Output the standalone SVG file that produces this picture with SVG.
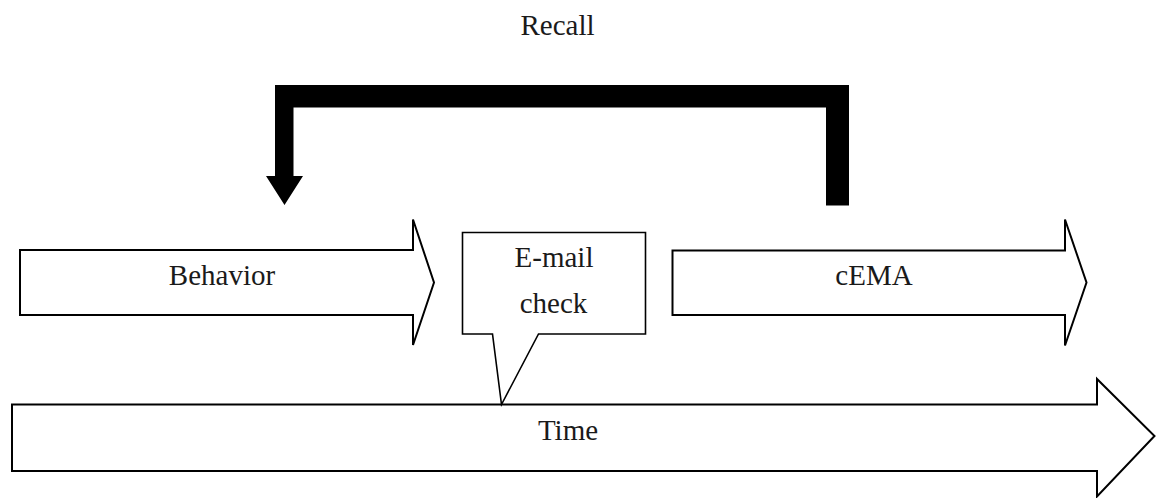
<svg xmlns="http://www.w3.org/2000/svg" width="1156" height="498" viewBox="0 0 1156 498">
  <style>
    .block { fill: #ffffff; stroke: #000000; stroke-width: 2; stroke-linejoin: miter; }
    .callout { fill: #ffffff; stroke: #000000; stroke-width: 1.6; stroke-linejoin: miter; }
    .label { font-family: "Liberation Serif", "Times New Roman", serif; font-size: 29px; fill: #1a1a1a; text-anchor: middle; }
    .bold-arrow { fill: #000000; stroke: none; }
  </style>
  <rect width="1156" height="498" fill="#ffffff"/>

  <!-- timeline -->
  <g id="time">
    <polygon class="block" points="12,404.5 1097,404.5 1097,379 1154.5,436 1097,496.5 1097,471 12,471"/>
    <text class="label" x="568" y="440">Time</text>
  </g>

  <!-- behaviour phase -->
  <g id="behavior">
    <polygon class="block" points="20,250 413,250 413,219.5 434,282.5 413,345 413,315 20,315"/>
    <text class="label" x="222" y="285">Behavior</text>
  </g>

  <!-- e-mail check callout pointing at the timeline -->
  <g id="email-check">
    <path class="callout" d="M462.5,232.5 H645.5 V334 H538.5 L501.5,404.5 L492.5,334 H462.5 Z"/>
    <text class="label" x="554" y="266.5">E-mail</text>
    <text class="label" x="553.5" y="312.5">check</text>
  </g>

  <!-- cEMA phase -->
  <g id="cema">
    <polygon class="block" points="672.5,250.5 1065,250.5 1065,219.5 1086.5,282.5 1065,345.5 1065,315 672.5,315"/>
    <text class="label" x="874" y="285">cEMA</text>
  </g>

  <!-- recall link from cEMA back to behaviour -->
  <g id="connectors">
    <polygon class="bold-arrow" points="826,205.5 849,205.5 849,85 275,85 275,176 266,176 284.5,205 303,176 293.5,176 293.5,107.5 826,107.5"/>
    <text class="label" x="557.5" y="35">Recall</text>
  </g>
</svg>
